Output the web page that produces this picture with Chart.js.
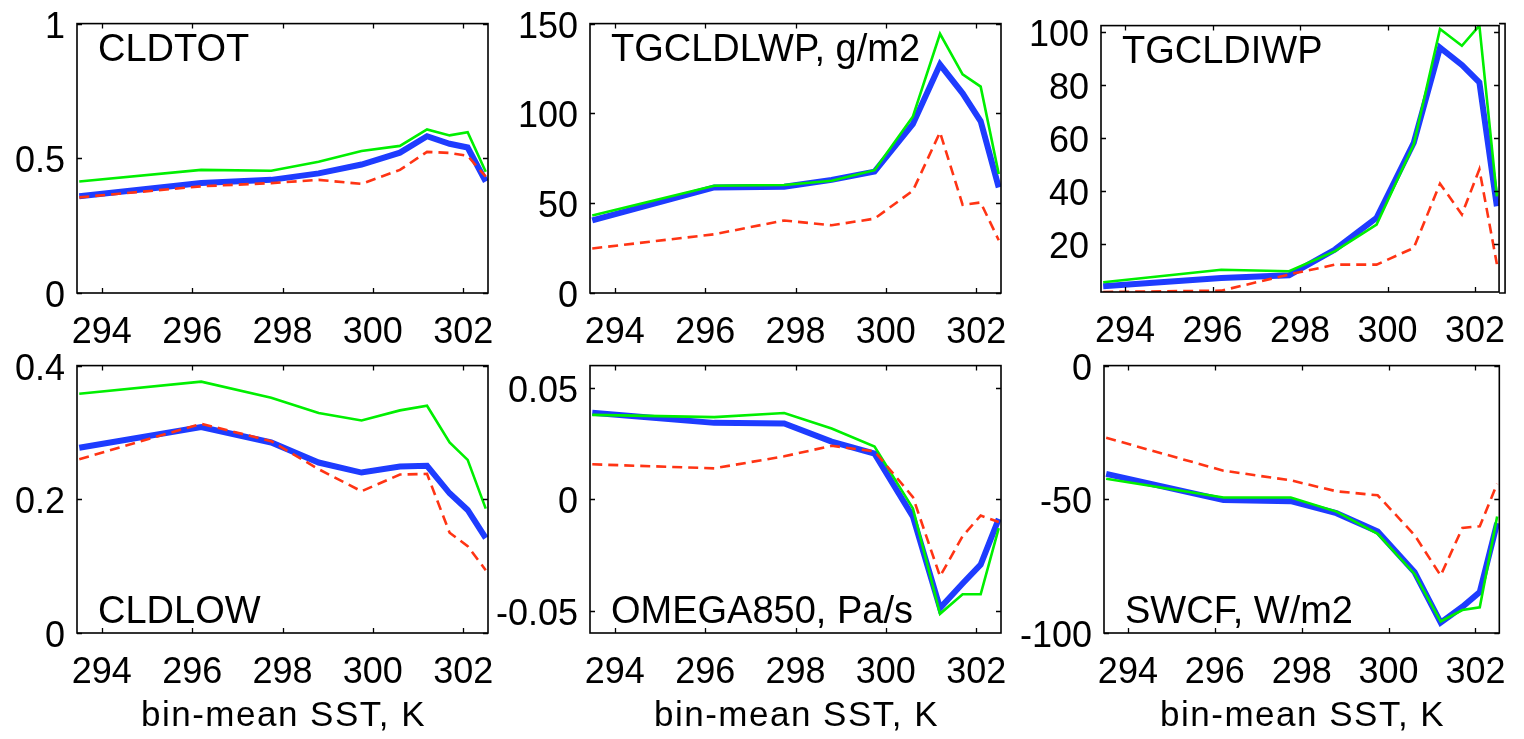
<!DOCTYPE html>
<html><head><meta charset="utf-8">
<script src="https://cdn.jsdelivr.net/npm/chart.js@4.4.1/dist/chart.umd.min.js"></script>
<style>
html,body{margin:0;padding:0;background:#fff;width:1524px;height:739px;overflow:hidden;position:relative}
canvas{position:absolute}
</style></head><body>
<script>
// ---------- data ----------
const sstBins = [293.5, 296.2, 297.75, 298.8, 299.75, 300.6, 301.2, 301.7, 302.1, 302.5];
const xTickValues = [294, 296, 298, 300, 302];
const xAxisTitle = 'bin-mean SST, K';

const cldtotGreen = [0.414, 0.457, 0.454, 0.487, 0.527, 0.546, 0.607, 0.585, 0.597, 0.45];
const cldtotBlue  = [0.359, 0.408, 0.420, 0.444, 0.477, 0.521, 0.582, 0.554, 0.540, 0.414];
const cldtotRed   = [0.355, 0.396, 0.408, 0.420, 0.405, 0.457, 0.524, 0.520, 0.509, 0.432];
const cldtotTicks = [0, 0.5, 1];

const lwpGreen = [43.2, 59.7, 60.1, 62.5, 68.4, 98.3, 144.3, 121.7, 114.9, 66.2];
const lwpBlue  = [40.4, 58.8, 59.2, 63.0, 67.6, 94.1, 127.2, 111.2, 95.6, 58.8];
const lwpRed   = [24.8, 32.7, 40.4, 37.7, 41.4, 57.0, 89.5, 49.1, 50.4, 29.4];
const lwpTicks = [0, 50, 100, 150];

const iwpGreen = [5.7, 10.4, 9.8, 17.4, 27.4, 57.6, 101.0, 94.7, 102.3, 38.0];
const iwpBlue  = [4.2, 7.3, 8.3, 18.0, 29.9, 58.2, 94.0, 87.5, 80.9, 34.3];
const iwpRed   = [2.0, 2.5, 8.6, 12.3, 12.3, 18.6, 42.8, 31.2, 48.2, 12.5];
const iwpTicks = [20, 40, 60, 80, 100];

const cldlowGreen = [0.358, 0.376, 0.352, 0.329, 0.318, 0.333, 0.340, 0.285, 0.259, 0.186];
const cldlowBlue  = [0.277, 0.308, 0.285, 0.255, 0.240, 0.249, 0.250, 0.209, 0.184, 0.142];
const cldlowRed   = [0.260, 0.313, 0.287, 0.245, 0.212, 0.237, 0.238, 0.150, 0.130, 0.094];
const cldlowTicks = [0, 0.2, 0.4];

const omegaGreen = [0.0379, 0.0369, 0.0387, 0.0318, 0.0237, -0.0041, -0.0514, -0.0426, -0.0426, -0.0129];
const omegaBlue  = [0.0388, 0.0343, 0.0340, 0.0259, 0.0205, -0.0078, -0.0488, -0.0378, -0.0293, -0.0088];
const omegaRed   = [0.0157, 0.0139, 0.0193, 0.0240, 0.0215, 0.0010, -0.0346, -0.0165, -0.0073, -0.0102];
const omegaTicks = [-0.05, 0, 0.05];

const swcfGreen = [-42.3, -49.3, -49.3, -54.6, -62.9, -77.9, -95.7, -91.4, -90.4, -56.4];
const swcfBlue  = [-40.5, -50.3, -50.7, -55.2, -62.0, -77.3, -96.1, -90.2, -84.7, -58.9];
const swcfRed   = [-27.0, -39.3, -42.9, -47.0, -48.5, -63.4, -78.5, -60.7, -60.1, -44.2];
const swcfTicks = [-100, -50, 0];

// ---------- layout / styling ----------
const FONT = '"Liberation Sans", Arial, sans-serif';
const Y_AXIS_W = 95, PAD_T = 30;
const panels = [
  {label:'CLDTOT', g:cldtotGreen, b:cldtotBlue, r:cldtotRed, ticks:cldtotTicks, min:0, max:1,
   box:{l:77,r:488,t:20,b:293}, padR:30, xh:55, labelPos:'top'},
  {label:'TGCLDLWP, g/m2', g:lwpGreen, b:lwpBlue, r:lwpRed, ticks:lwpTicks, min:0, max:150,
   box:{l:590,r:1001,t:20,b:293}, padR:30, xh:55, labelPos:'top'},
  {label:'TGCLDIWP', g:iwpGreen, b:iwpBlue, r:iwpRed, ticks:iwpTicks, min:2, max:102.3,
   box:{l:1101,r:1508,t:22,b:292}, padR:16, xh:55, labelPos:'top', bracket:true},
  {label:'CLDLOW', g:cldlowGreen, b:cldlowBlue, r:cldlowRed, ticks:cldlowTicks, min:0, max:0.4,
   box:{l:77,r:488,t:362,b:633}, padR:30, xh:106, labelPos:'bottom', xTitle:true},
  {label:'OMEGA850, Pa/s', g:omegaGreen, b:omegaBlue, r:omegaRed, ticks:omegaTicks, min:-0.06, max:0.06,
   box:{l:590,r:1001,t:362,b:633}, padR:30, xh:106, labelPos:'bottom', xTitle:true},
  {label:'SWCF, W/m2', g:swcfGreen, b:swcfBlue, r:swcfRed, ticks:swcfTicks, min:-100, max:0,
   box:{l:1104,r:1515,t:362,b:633}, padR:9, xh:106, labelPos:'bottom', xTitle:true}
];

const framePlugin = {
  id: 'frame',
  afterDatasetsDraw(chart, args, o) {
    const {ctx, chartArea: a} = chart;
    const xs = chart.scales.x, ys = chart.scales.y;
    ctx.save();
    ctx.strokeStyle = '#000';
    ctx.lineWidth = 1.6;
    ctx.strokeRect(a.left, a.top, a.right - a.left, a.bottom - a.top);
    ctx.lineWidth = 1.3;
    ctx.beginPath();
    xs.ticks.forEach(t => {
      const p = Math.round(xs.getPixelForValue(t.value)) + 0.5;
      ctx.moveTo(p, a.bottom); ctx.lineTo(p, a.bottom - 5);
      ctx.moveTo(p, a.top); ctx.lineTo(p, a.top + 5);
    });
    ys.ticks.forEach(t => {
      const p = Math.round(ys.getPixelForValue(t.value)) + 0.5;
      ctx.moveTo(a.left, p); ctx.lineTo(a.left + 5, p);
      ctx.moveTo(a.right, p); ctx.lineTo(a.right - 5, p);
    });
    ctx.stroke();
    if (o.bracket) {
      ctx.lineWidth = 1.6;
      ctx.beginPath();
      ctx.moveTo(a.right, a.top - 2); ctx.lineTo(a.right + 6, a.top - 2);
      ctx.lineTo(a.right + 6, a.bottom + 1); ctx.lineTo(a.right, a.bottom + 1);
      ctx.stroke();
    }
    ctx.fillStyle = '#000';
    ctx.font = '38px ' + FONT;
    ctx.textBaseline = 'alphabetic';
    ctx.textAlign = 'left';
    const ly = o.labelPos === 'top' ? a.top + 37 : a.bottom - 10;
    ctx.fillText(o.label, a.left + 21, ly);
    if (o.xTitle) {
      ctx.font = '35px ' + FONT;
      ctx.letterSpacing = '1.5px';
      ctx.textAlign = 'center';
      ctx.fillText(o.xTitle, (a.left + a.right) / 2 + 1, a.bottom + 93);
    }
    ctx.restore();
  }
};

panels.forEach(p => {
  const c = document.createElement('canvas');
  const W = Y_AXIS_W + (p.box.r - p.box.l) + p.padR;
  const H = PAD_T + (p.box.b - p.box.t) + p.xh;
  c.width = W; c.height = H;
  c.style.left = (p.box.l - Y_AXIS_W) + 'px';
  c.style.top = (p.box.t - PAD_T) + 'px';
  c.style.width = W + 'px'; c.style.height = H + 'px';
  document.body.appendChild(c);
  const mk = arr => sstBins.map((x, i) => ({x, y: arr[i]}));
  new Chart(c, {
    type: 'line',
    data: {
      datasets: [
        {data: mk(p.r), borderColor: '#ff3414', borderWidth: 2.6, borderDash: [10, 6], pointRadius: 0, tension: 0},
        {data: mk(p.g), borderColor: '#00ef00', borderWidth: 2.6, pointRadius: 0, tension: 0},
        {data: mk(p.b), borderColor: '#1e3cff', borderWidth: 6, pointRadius: 0, tension: 0, borderJoinStyle: 'miter'}
      ]
    },
    options: {
      responsive: false, animation: false, devicePixelRatio: 1,
      layout: {padding: {left: 0, top: PAD_T, right: p.padR, bottom: 0}},
      plugins: {
        legend: {display: false}, tooltip: {enabled: false},
        frame: {label: p.label, labelPos: p.labelPos, xTitle: p.xTitle ? xAxisTitle : null, bracket: !!p.bracket}
      },
      scales: {
        x: {
          type: 'linear', min: 293.45, max: 302.55,
          afterBuildTicks: s => { s.ticks = xTickValues.map(v => ({value: v})); },
          afterFit: s => { s.height = p.xh; },
          grid: {display: false, drawTicks: false}, border: {display: false},
          ticks: {font: {family: FONT, size: 36}, color: '#000', padding: 18, maxRotation: 0, autoSkip: false,
                  callback: v => String(v)}
        },
        y: {
          type: 'linear', min: p.min, max: p.max,
          afterBuildTicks: s => { s.ticks = p.ticks.map(v => ({value: v})); },
          afterFit: s => { s.width = Y_AXIS_W; },
          grid: {display: false, drawTicks: false}, border: {display: false},
          ticks: {font: {family: FONT, size: 36}, color: '#000', padding: 12, labelOffset: 4, autoSkip: false,
                  callback: v => String(v)}
        }
      }
    },
    plugins: [framePlugin]
  });
});
</script>
</body></html>
